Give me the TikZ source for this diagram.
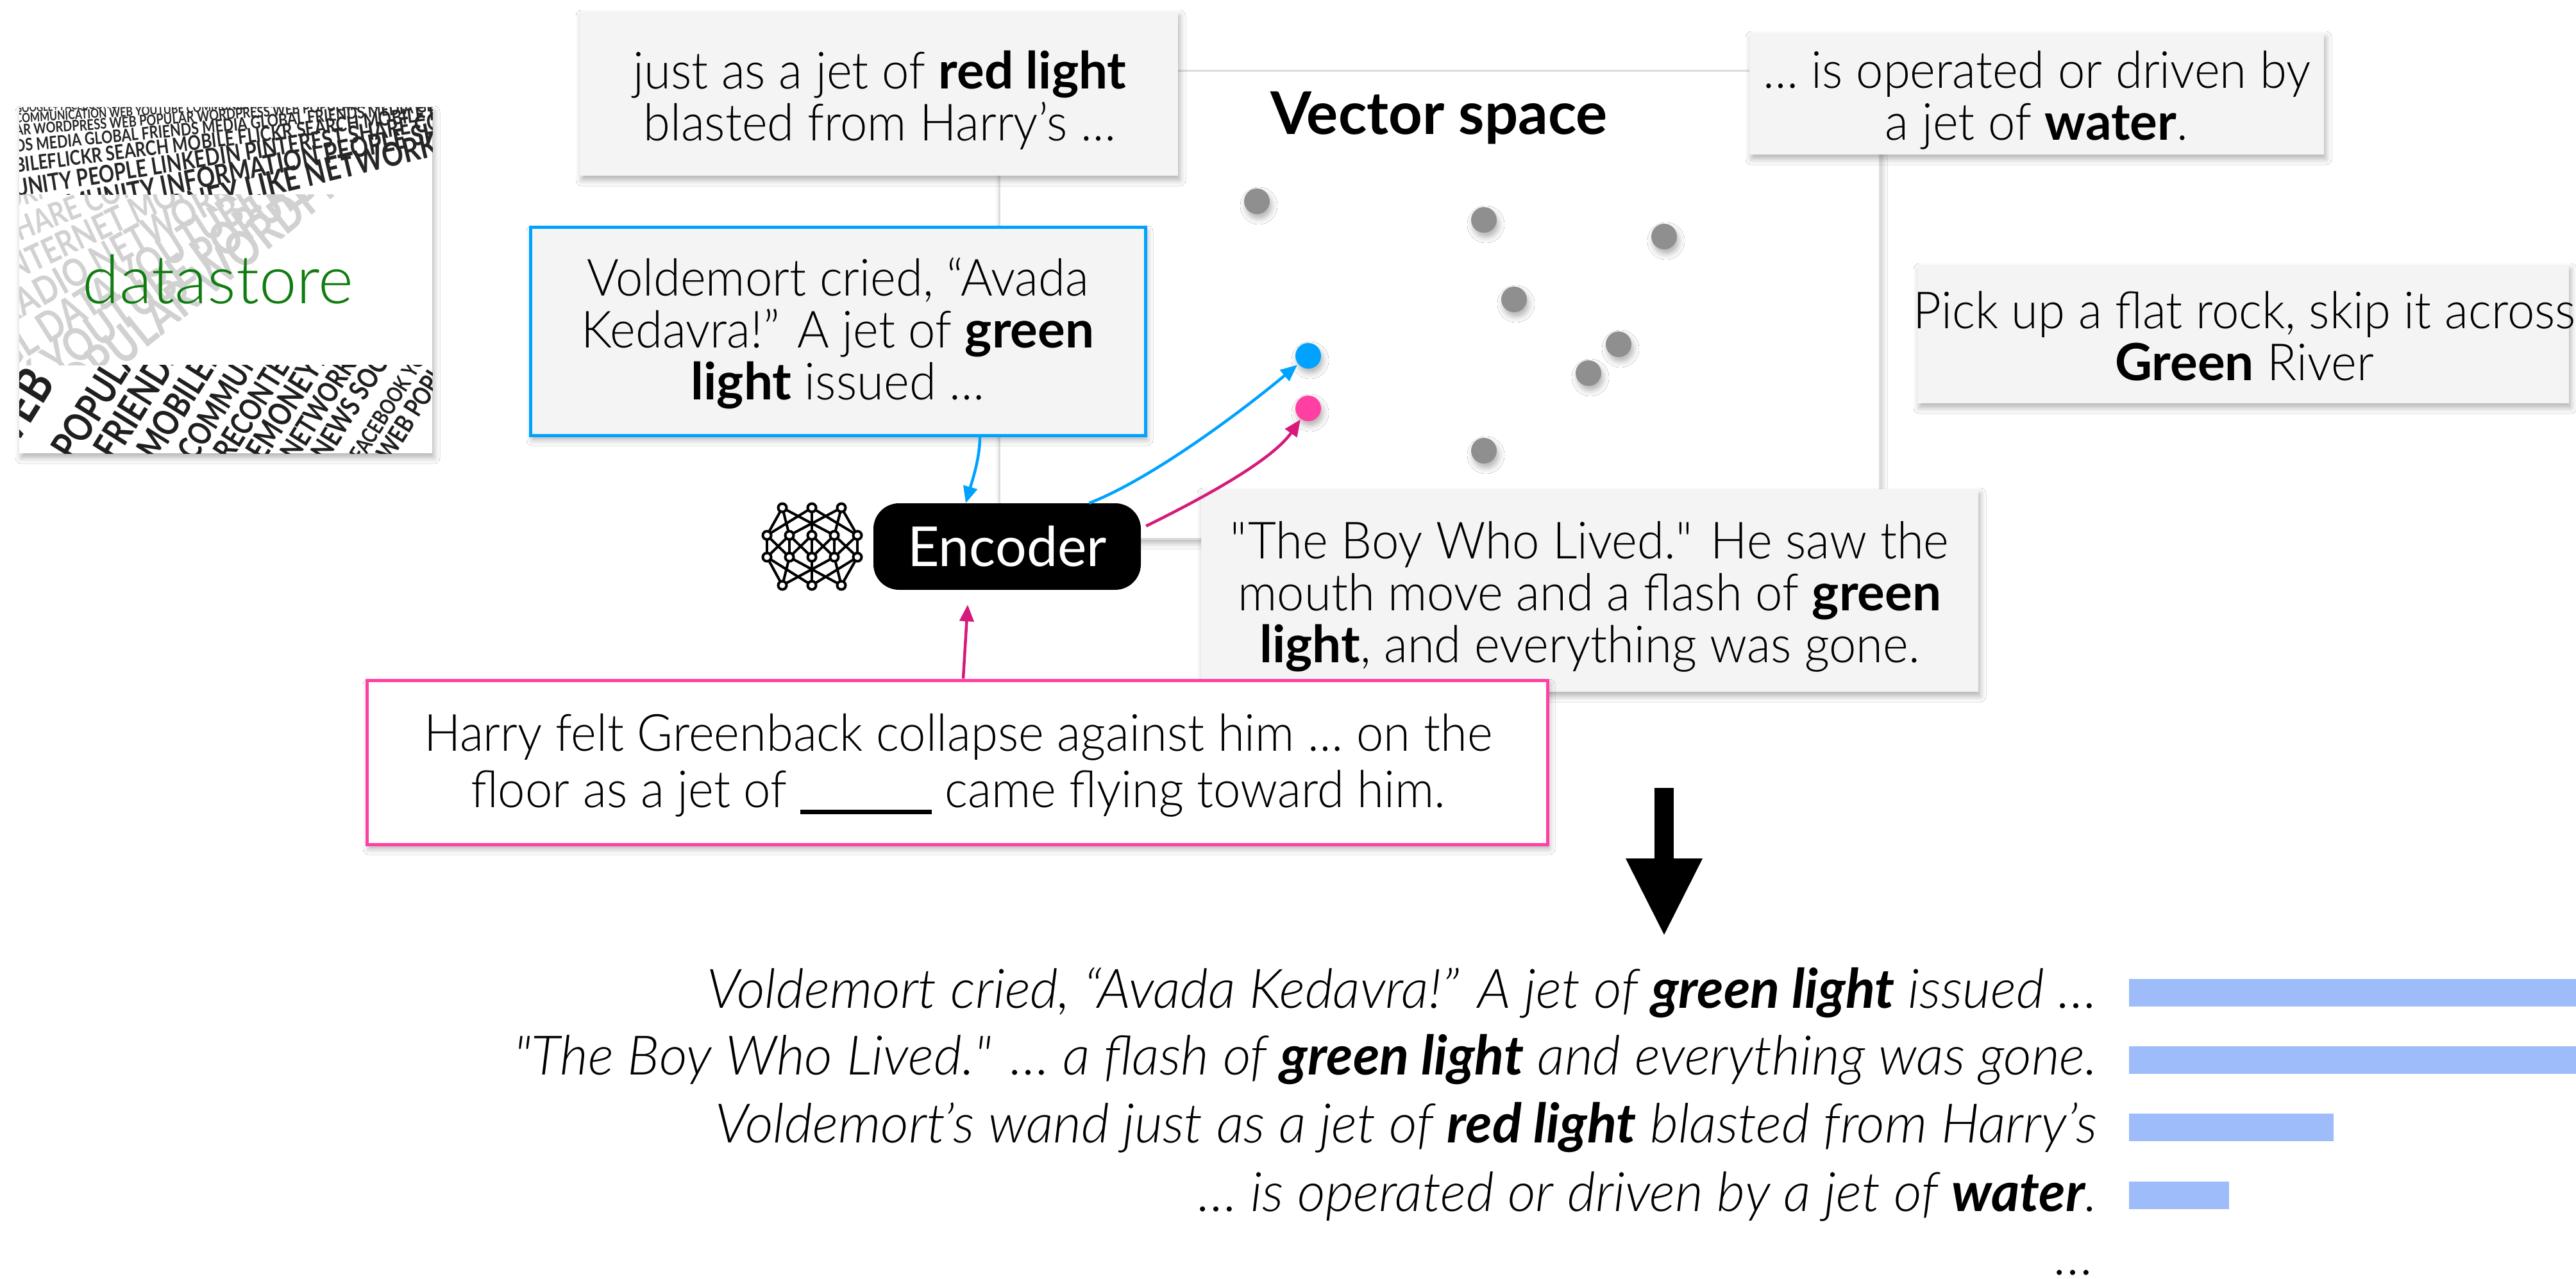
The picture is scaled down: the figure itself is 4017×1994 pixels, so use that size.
\documentclass[tikz,border=0pt]{standalone}
\usepackage{fontspec}
\setmainfont{Lato Light}[UprightFeatures={FakeStretch=0.95},BoldFont={Lato Bold},ItalicFont={Lato Light Italic},BoldItalicFont={Lato Bold Italic}]
\newfontfamily\encfont{Lato}
\newfontfamily\storefont{Lato Light}
\newfontfamily\tilefont{Lato Bold}[FakeStretch=0.8]
\usetikzlibrary{arrows.meta,shadows.blur}

\definecolor{cardgray}{HTML}{F4F4F4}
\definecolor{framegray}{HTML}{DDDDDD}
\definecolor{dotgray}{HTML}{8F8F8F}
\definecolor{skyblue}{HTML}{00A2FF}
\definecolor{hotpink}{HTML}{FF40A2}
\definecolor{deeppink}{HTML}{D61A7B}
\definecolor{storegreen}{HTML}{107C10}
\definecolor{barblue}{HTML}{9EBBFA}

\newcommand{\bodysize}{\fontsize{80}{81}\selectfont}
\newcommand{\listsize}{\fontsize{85}{85}\selectfont}

\begin{document}
\begin{tikzpicture}[x=1pt,y=-1pt,
  softshadow/.style={blur shadow={shadow xshift=3pt,shadow yshift=-7pt,shadow blur radius=9pt,shadow opacity=30}},
  card/.style={fill=cardgray,inner sep=0pt,softshadow},
  cardtext/.style={inner sep=0pt,align=center,font=\bodysize},
  vecdot/.style={circle,inner sep=0pt,minimum size=40pt,fill=dotgray,softshadow},
  link/.style={line width=4.5pt},
  bluelink/.style={link,draw=skyblue,-{Triangle[length=26pt,width=22pt]}},
  pinklink/.style={link,draw=deeppink,-{Triangle[length=26pt,width=22pt]}},
  hit/.style={anchor=base east,inner sep=0pt,font=\listsize\itshape},
  bar/.style={fill=barblue},
  netdot/.style={circle,draw=black,fill=white,line width=4pt,minimum size=13pt,inner sep=0pt},
  netedge/.style={line width=4pt},
  word/.style={inner sep=0pt,font=\tilefont\fontsize{#1}{#1}\selectfont},
]
\useasboundingbox (0,0) rectangle (4017,1994);
\fill[white] (0,0) rectangle (4017,1994);

% ---------- datastore tile ----------
\path[fill=white,softshadow] (30,167) rectangle (674,707);
% dark upper band, rows fanning towards the upper right
\begin{scope}
  \clip (30,167) rectangle (674,303);
  \foreach \y/\w in {
      176/GOOGLE+ FACEBOOK DATA NEWS SOCIAL DATA GOOGLE+ FACEBOOK DATA NEWS SOCIAL,
      192/COMMUNICATION WEB YOUTUBE COMMUNICATION WEB YOUTUBE POPULAR WEB,
      212/AR WORDPRESS WEB POPULAR WORDPRESS WEB POPULAR WORDPRESS WEB,
      238/DS MEDIA GLOBAL FRIENDS MEDIA GLOBAL FRIENDS MEDIA GLOBAL,
      270/BILEFLICKR SEARCH MOBILE FLICKR SEARCH MOBILE FLICKR SEARCH,
      308/UNITY PEOPLE LINKEDIN PINTEREST SHARE CONTENT MONEY LIKE SHARE,
      352/COMMUNITY INFORMATION PEOPLE SHARE CONTENT ONLINE RADIO DATA,
      402/INTERNET MONEY LIKE NETWORK ONLINE RADIO NEWS SOCIAL DATA}
  {
    \pgfmathsetmacro\ang{atan((\y-125)/1150)}
    \pgfmathsetmacro\sz{10+0.15*(\y-125)}
    \node[word=\sz,text=black!85,anchor=south west,rotate=\ang] at (24,\y) {\w};
  }
\end{scope}
% faded middle band
\begin{scope}
  \clip (30,303) rectangle (674,569);
  \foreach \y/\w in {
      330/ORMATION PEOPLE CONTENT LIKE INTERNET RADIO DATA NEWS SOCIAL,
      385/SHARE CONTENT MONEY LIKE ONLINE RADIO DATA NEWS SOCIAL WEB,
      445/INTERNET MONEY NETWORK ONLINE SOCIAL DATA WEB GOOGLE+ FACEBOOK,
      510/RADIO NETWORK NEWS SOCIAL FACEBOOK YOUTUBE WEB POPULAR,
      580/GL DATA YOUTUBE COMMUNICATION WORDPRESS MEDIA GLOBAL,
      650/OK YOUTUBE POPULAR MEDIA FLICKR SEARCH PEOPLE SHARE,
      720/OK POPULAR WORDPRESS MEDIA GLOBAL LINKEDIN CONTENT}
  {
    \pgfmathsetmacro\ang{atan((\y-60)/820)}
    \pgfmathsetmacro\sz{24+0.08*(\y-60)}
    \node[word=\sz,text=black!18,anchor=south west,rotate=\ang] at (10,\y) {\w};
  }
\end{scope}
% dark lower band of steep words
\begin{scope}
  \clip (30,569) rectangle (674,707);
  \foreach \x/\s/\w in {
      10/80/WEB,
      115/62/POPULAR,
      180/60/FRIENDS,
      245/56/MOBILEFLICKR,
      305/50/COMMUNITY PEOPLE,
      360/48/RECONTENT,
      412/50/EMONEYLIKE,
      462/44/NETWORK ONLINE,
      510/44/NEWS SOCIAL DATA,
      565/34/FACEBOOK YOUTUBE,
      610/40/WEB POPULAR}
    \node[word=\s,text=black!88,anchor=south west,rotate=58] at (\x,722) {\w};
\end{scope}
\node[font=\storefont\fontsize{105}{105}\selectfont,text=storegreen,anchor=base,inner sep=0pt] (store) at (340,473) {datastore};

% ---------- vector space ----------
\node[draw=framegray,line width=3pt,fill=white,minimum width=1373pt,minimum height=730pt,inner sep=0pt,softshadow] (vspace) at (2244.5,475) {};
\node[anchor=base,inner sep=0pt,font=\bfseries\fontsize{92}{92}\selectfont] (vlabel) at (2244,209) {Vector space};

\node[vecdot] (d1) at (1960,314) {};
\node[vecdot] (d2) at (2314,343) {};
\node[vecdot] (d3) at (2595,369) {};
\node[vecdot] (d4) at (2361,467) {};
\node[vecdot] (d5) at (2524,537) {};
\node[vecdot] (d6) at (2477,582) {};
\node[vecdot] (d7) at (2314,703) {};
\node[vecdot,fill=skyblue] (bluedot) at (2040,555) {};
\node[vecdot,fill=hotpink] (pinkdot) at (2040,637) {};

% ---------- retrieved passages ----------
\node[card,minimum width=933pt,minimum height=256pt] (redlight) at (1370.5,146) {};
\node[cardtext] (redlighttext) at (1372,156)
  {just as a jet of \textbf{red light}\\blasted from Harry’s …};
\node[card,minimum width=896pt,minimum height=190pt] (water) at (3176,146) {};
\node[cardtext] (watertext) at (3176,156)
  {… is operated or driven by\\a jet of \textbf{water}.};
\node[card,minimum width=1016pt,minimum height=216pt] (rock) at (3498,521) {};
\node[cardtext] (rocktext) at (3500,524)
  {Pick up a flat rock, skip it across\\\textbf{Green} River};
\node[card,draw=skyblue,line width=5pt,minimum width=959pt,minimum height=325pt] (voldemort) at (1306.5,516.5) {};
\node[cardtext] (voldemorttext) at (1306.5,519.5)
  {Voldemort cried, “Avada\\Kedavra!” A jet of \textbf{green}\\\textbf{light} issued …};
\node[card,minimum width=1212pt,minimum height=316pt] (boylived) at (2479,921) {};
\node[cardtext] (boylivedtext) at (2479,931)
  {\textquotedbl The Boy Who Lived.\textquotedbl{} He saw the\\mouth move and a flash of \textbf{green}\\\textbf{light}, and everything was gone.};

% ---------- encoder ----------
\node[fill=black,rounded corners=40pt,minimum width=417pt,minimum height=135pt,inner sep=0pt,
      text=white,font=\encfont\fontsize{86}{86}\selectfont] (encoder) at (1570.5,852.5) {Encoder};

% network glyph beside the encoder
\foreach \i/\x in {1/1220,2/1266,3/1312} {
  \coordinate (t\i) at (\x,792);
  \coordinate (b\i) at (\x,913);
}
\foreach \i/\x in {1/1196,2/1231,3/1266,4/1301,5/1337} {
  \coordinate (u\i) at (\x,835);
  \coordinate (l\i) at (\x,869);
}
\foreach \a/\b in {1/1,1/2,1/4,2/1,2/3,2/5,3/2,3/4,3/5} {
  \draw[netedge] (t\a) -- (u\b);
  \draw[netedge] (b\a) -- (l\b);
}
\foreach \a/\b in {1/1,1/2,2/1,2/2,2/3,3/2,3/3,3/4,4/3,4/4,4/5,5/4,5/5} {
  \draw[netedge] (u\a) -- (l\b);
}
\foreach \n in {t1,t2,t3,u1,u2,u3,u4,u5,l1,l2,l3,l4,l5,b1,b2,b3}
  \node[netdot] (n\n) at (\n) {};

% ---------- query ----------
\node[fill=white,draw=hotpink,line width=5pt,minimum width=1841pt,minimum height=256pt,inner sep=0pt,softshadow] (query) at (1492.5,1189) {};
\node[inner sep=0pt,align=center,font=\fontsize{80}{88}\selectfont] (querytext) at (1494,1194)
  {Harry felt Greenback collapse against him … on the\\floor as a jet of \rule[-10pt]{205pt}{7pt} came flying toward him.};

% ---------- connectors ----------
\draw[bluelink] ([xshift=221.5pt]voldemort.south) .. controls (1528,715) and (1516,750) .. ([xshift=-64.5pt]encoder.north);
\draw[bluelink,shorten >=2pt] ([xshift=128pt]encoder.north) .. controls (1800,745) and (1943,636) .. (bluedot);
\draw[pinklink,shorten >=1pt] ([xshift=8pt,yshift=32pt]encoder.east) .. controls (1900,765) and (1987,713) .. (pinkdot);
\draw[pinklink] ([xshift=9.5pt]query.north) -- ([xshift=-61.5pt,yshift=-23pt]encoder.south);

% ---------- ranking ----------
\coordinate (flowtop) at (2595,1229);
\coordinate (flowneck) at (2595,1345);
\coordinate (flowleft) at (2535,1339);
\coordinate (flowright) at (2655,1339);
\coordinate (flowtip) at (2595,1458);
\draw[line width=30pt] (flowtop) -- (flowneck);
\fill (flowleft) -- (flowright) -- (flowtip) -- cycle;

\fill[bar] (3320,1527) rectangle (4017,1570);
\fill[bar] (3320,1632) rectangle (4017,1675);
\fill[bar] (3320,1737) rectangle (3639,1780);
\fill[bar] (3320,1843) rectangle (3476,1886);

\node[hit] (hit1) at (3271,1572) {Voldemort cried, “Avada Kedavra!” A jet of \textbf{green light} issued …};
\node[hit] (hit2) at (3271,1676) {\textquotedbl The Boy Who Lived.\textquotedbl{} … a flash of \textbf{green light} and everything was gone.};
\node[hit] (hit3) at (3271,1782) {Voldemort’s wand just as a jet of \textbf{red light} blasted from Harry’s};
\node[hit] (hit4) at (3271,1889) {… is operated or driven by a jet of \textbf{water}.};
\node[hit] (hit5) at (3266,1988) {…};
\end{tikzpicture}
\end{document}
